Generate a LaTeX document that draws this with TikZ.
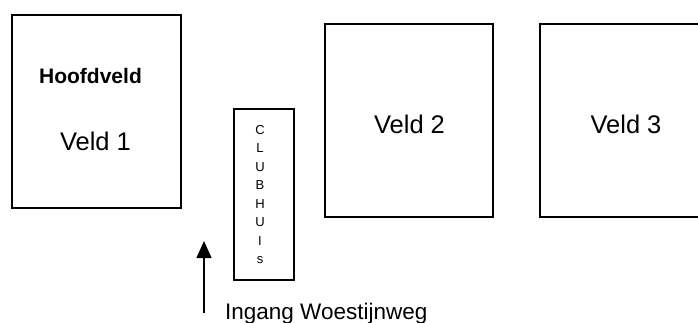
\documentclass[tikz,border=0pt]{standalone}
\usepackage{fontspec}
\setmainfont{Liberation Sans}
\usetikzlibrary{arrows.meta}
\begin{document}
\begin{tikzpicture}[x=1bp,y=-1bp,
  field/.style={draw=black,line width=1.5bp,inner sep=0pt,outer sep=0pt,minimum height=193bp},
  biglabel/.style={font=\fontsize{25.5bp}{30bp}\selectfont,inner sep=0pt,anchor=base},
  letter/.style={font=\fontsize{13bp}{15bp}\selectfont,inner sep=0pt,anchor=base}]
\useasboundingbox (0,0) rectangle (698,322);
\clip (0,0) rectangle (698,322);
\node[field,minimum width=169bp] (v1) at (96.5,111.5) {};
\node[field,minimum width=168bp] (v2) at (409,120.5) {};
\node[field,minimum width=180bp] (v3) at (630,120.5) {};
\node[field,minimum width=60bp,minimum height=171bp] (ch) at (264,194.5) {};
\node[font=\fontsize{21bp}{25bp}\selectfont\bfseries,inner sep=0pt,anchor=base] (hv) at (90.5,83) {Hoofdveld};
\node[biglabel] (l1) at (95.5,150) {Veld 1};
\node[biglabel] (l2) at (409.5,133) {Veld 2};
\node[biglabel] (l3) at (626,133) {Veld 3};
\foreach \t [count=\i from 0] in {C,L,U,B,H,U,I,s}
  \node[letter] (c\i) at (260,134+18.5*\i) {\t};
\coordinate (a0) at (204,313);
\coordinate (a1) at (204,241);
\draw[line width=1.5bp,-{Triangle[width=15bp,length=17bp]}] (a0) -- (a1);
\node[font=\fontsize{22.5bp}{27bp}\selectfont,inner sep=0pt,anchor=base west] (ing) at (225,319.5) {Ingang Woestijnweg};
\end{tikzpicture}
\end{document}
